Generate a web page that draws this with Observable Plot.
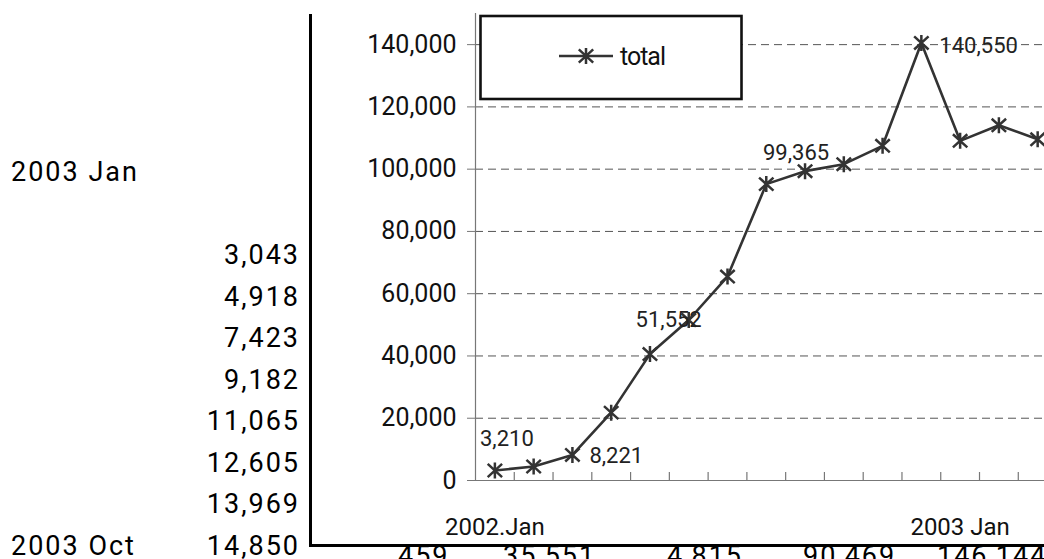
<!DOCTYPE html>
<html>
<head>
<meta charset="utf-8">
<script src="https://cdn.jsdelivr.net/npm/d3@7"></script>
<script src="https://cdn.jsdelivr.net/npm/@observablehq/plot@0.6"></script>
<style>
  body { margin: 0; background: #fff; }
  #wrap { position: relative; width: 1044px; height: 559px; overflow: hidden; background: #fff; font-family: Roboto, "Noto Sans", sans-serif; }
  .cell { position: absolute; font-size: 27px; letter-spacing: 2px; line-height: 1; color: #000; white-space: nowrap; transform: translateY(-50%); }
  #chartbg { position: absolute; left: 309px; top: 14px; width: 800px; height: 530px; background: #fff; border-left: 3px solid #000; border-bottom: 3px solid #000; }
  #plot { position: absolute; left: 0; top: 0; }
</style>
</head>
<body>
<div id="wrap">
  <div id="cells"></div>
  <div id="chartbg"></div>
  <div id="plot"></div>
</div>
<script>
// ---- Chart data ----
const seriesName = "total";
const totals = [3210, 4500, 8221, 21800, 40600, 51552, 65500, 95200, 99365, 101600, 107500, 140550, 109100, 114100, 109600];
const labeledIdx = [0, 2, 5, 8, 11];
const yTicks = [0, 20000, 40000, 60000, 80000, 100000, 120000, 140000];
const xTickIdx = [0, 12];
const xTickLabels = ["2002.Jan", "2003 Jan"];

// ---- Spreadsheet cells around the chart ----
const sideDates = ["2003 Jan", "2003 Oct"];
const sideDateRows = [0, 9];
const sideValues = ["3,043", "4,918", "7,423", "9,182", "11,065", "12,605", "13,969", "14,850"];
const sideValueRows = [2, 3, 4, 5, 6, 7, 8, 9];
const bottomValues = ["459", "35,551", "4,815", "90,469", "146,144"];
const bottomLefts = [398, 503, 667, 803, 937];

const cells = document.getElementById("cells");
const rowY = r => 172 + r * 41.5;
sideDates.forEach((t, i) => {
  const d = document.createElement("div");
  d.className = "cell"; d.textContent = t;
  d.style.left = "11px"; d.style.top = rowY(sideDateRows[i]) + "px";
  cells.appendChild(d);
});
sideValues.forEach((t, i) => {
  const d = document.createElement("div");
  d.className = "cell"; d.textContent = t;
  d.style.right = (1044 - 300) + "px"; d.style.top = rowY(sideValueRows[i]) + "px";
  cells.appendChild(d);
});
bottomValues.forEach((t, i) => {
  const d = document.createElement("div");
  d.className = "cell"; d.textContent = t;
  d.style.left = bottomLefts[i] + "px"; d.style.top = "556px";
  cells.appendChild(d);
});

// ---- Plot ----
const data = totals.map((v, i) => ({i, v}));
const boundaries = d3.range(0, totals.length - 1).map(i => i + 0.5);

const asterisk = {
  draw(ctx, size) {
    const r = Math.sqrt(size / Math.PI);
    const a = r * 0.9, b = r * 0.82;
    ctx.moveTo(0, -r); ctx.lineTo(0, r);
    ctx.moveTo(-a, -b); ctx.lineTo(a, b);
    ctx.moveTo(-a, b); ctx.lineTo(a, -b);
  }
};

const labelOpts = {
  0: {dx: 12, dy: -32, textAnchor: "middle"},
  2: {dx: 17, dy: 1, textAnchor: "start"},
  5: {dx: 13, dy: 0, textAnchor: "end"},
  8: {dx: -9, dy: -18, textAnchor: "middle"},
  11: {dx: 18, dy: 3, textAnchor: "start"}
};
const fmt = d3.format(",");

const labelMarks = labeledIdx.map(k => Plot.text(data.filter(d => d.i === k), {
  x: "i", y: "v", text: d => fmt(d.v), fontSize: 22, fill: "#222", ...labelOpts[k]
}));

const chart = Plot.plot({
  width: 1044,
  height: 559,
  marginLeft: 475,
  marginRight: 0,
  marginTop: 13,
  marginBottom: 79,
  style: {background: "transparent", fontFamily: "Roboto, 'Noto Sans', sans-serif", overflow: "hidden"},
  x: {type: "linear", domain: [-0.5, -0.5 + 569 / 38.77], label: null},
  y: {domain: [0, 150000], label: null},
  marks: [
    Plot.gridY(yTicks.filter(t => t > 0), {stroke: "#555", strokeOpacity: 1, strokeDasharray: "8,5"}),
    Plot.ruleY([0], {stroke: "#777", strokeWidth: 1.2}),
    Plot.ruleX([-0.5], {stroke: "#777", strokeWidth: 1.2}),
    Plot.ruleX(boundaries, {x: d => d, y1: 0, y2: 0, insetTop: -8, stroke: "#777", strokeWidth: 1.2}),
    Plot.axisY({ticks: yTicks, tickFormat: fmt, tickSize: 8, tickPadding: 11, fontSize: 25, stroke: "#777", fill: "#111", label: null}),
    Plot.axisX({ticks: xTickIdx, tickFormat: i => xTickLabels[xTickIdx.indexOf(i)], tickSize: 0, tickPadding: 37, fontSize: 24, fill: "#111", label: null}),
    Plot.line(data, {x: "i", y: "v", stroke: "#333", strokeWidth: 2.6}),
    Plot.dot(data, {x: "i", y: "v", r: 8, symbol: asterisk, stroke: "#333", strokeWidth: 2.5, fill: "none"}),
    ...labelMarks
  ]
});

document.getElementById("plot").appendChild(chart);

// ---- Legend box ----
const svg = d3.select(chart);
const lg = svg.append("g");
lg.append("rect").attr("x", 480.5).attr("y", 16).attr("width", 261).attr("height", 83)
  .attr("fill", "#fff").attr("stroke", "#111").attr("stroke-width", 2.6);
lg.append("line").attr("x1", 559).attr("x2", 613).attr("y1", 56).attr("y2", 56)
  .attr("stroke", "#333").attr("stroke-width", 2.6);
lg.append("path").attr("d", d3.symbol(asterisk, 64 * Math.PI)()).attr("transform", "translate(586,56)")
  .attr("fill", "none").attr("stroke", "#333").attr("stroke-width", 2.5);
lg.append("text").attr("x", 620).attr("y", 56).attr("dy", "0.35em").attr("font-size", 25)
  .attr("text-anchor", "start").attr("letter-spacing", "-1px").attr("fill", "#111").text(seriesName);
</script>
</body>
</html>
